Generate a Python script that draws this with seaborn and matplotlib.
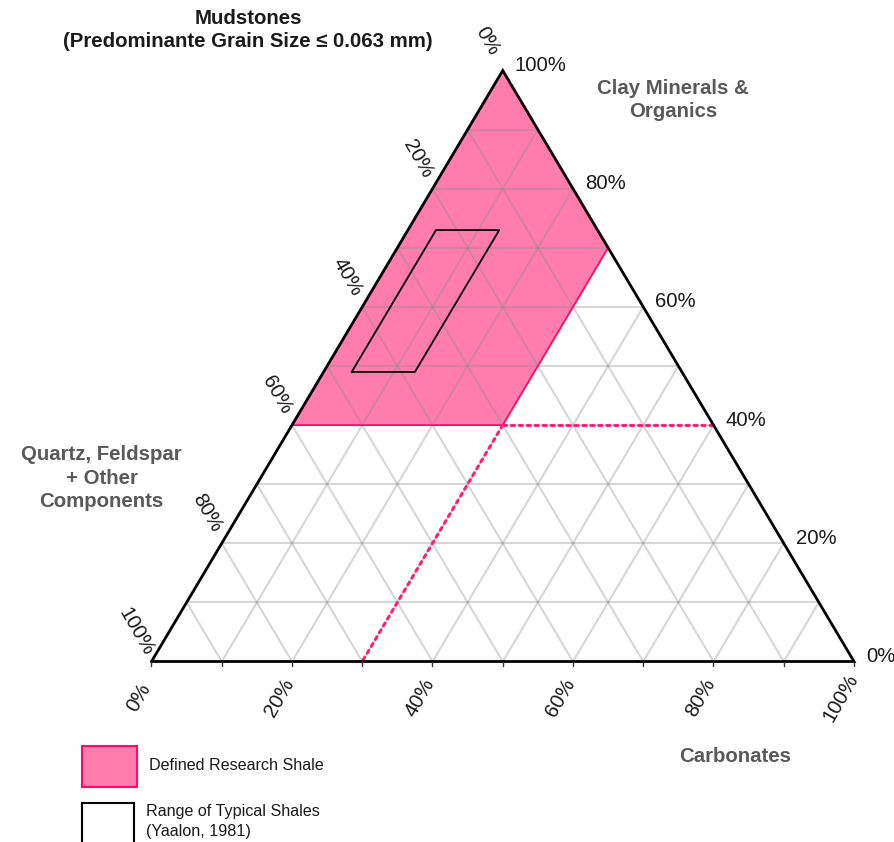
import numpy as np
import pandas as pd
import matplotlib
matplotlib.use("Agg")
import matplotlib.pyplot as plt
from matplotlib.patches import Rectangle
import seaborn as sns

# ---------------- data ----------------
tick_values = [0, 20, 40, 60, 80, 100]
tick_labels = ["0%", "20%", "40%", "60%", "80%", "100%"]
grid_levels = [10, 20, 30, 40, 50, 60, 70, 80, 90]
bottom_ticks = [0, 10, 20, 30, 40, 50, 60, 70, 80, 90, 100]

# Defined research shale: clay >= 40 %, carbonate <= 30 %
shale_clay = [40, 40, 70, 100]
shale_carb = [0, 30, 30, 0]

# Range of typical shales (Yaalon, 1981)
typical_clay = [49, 73, 73, 49]
typical_carb = [4, 4, 13, 13]

# dotted boundary extensions
clay_cut_clay = [40, 40]
clay_cut_carb = [30, 60]
carb_cut_clay = [40, 0]
carb_cut_carb = [30, 30]

title_text = "Mudstones\n(Predominante Grain Size \u2264 0.063 mm)"
apex_label = "Clay Minerals &\nOrganics"
left_label = "Quartz, Feldspar\n+ Other\nComponents"
right_label = "Carbonates"
legend_labels = ["Defined Research Shale", "Range of Typical Shales\n(Yaalon, 1981)"]

# ---------------- helpers ----------------
def tern(clay, carb):
    clay = np.asarray(clay, dtype=float) / 100.0
    carb = np.asarray(carb, dtype=float) / 100.0
    return carb + clay / 2.0, clay

W, H = 895, 842
sns.set_theme(style="white")
plt.rcParams["font.family"] = ["Liberation Sans", "DejaVu Sans"]

fig = plt.figure(figsize=(W / 100, H / 100), dpi=100)
ax = fig.add_axes([151.5 / W, (H - 661.5) / H, 702.5 / W, 591 / H])

PINK = "#ff7cac"
PINK_EDGE = "#ff0a6c"
DOT = "#ff1f78"
GREY_TXT = "#595959"
FS = 14.7

# pink region fill
sx, sy = tern(shale_clay, shale_carb)
ax.fill(sx, sy, facecolor=PINK, edgecolor="none", zorder=1)

# grid via seaborn
rows = []
seg = 0
for L in grid_levels:
    for (c0, k0, c1, k1) in [(L, 0, L, 100 - L),          # constant clay
                             (0, L, 100 - L, L),          # constant carbonate
                             (100 - L, 0, 0, 100 - L)]:   # constant quartz
        x0, y0 = tern(c0, k0)
        x1, y1 = tern(c1, k1)
        rows.append({"seg": seg, "x": float(x0), "y": float(y0)})
        rows.append({"seg": seg, "x": float(x1), "y": float(y1)})
        seg += 1
grid_df = pd.DataFrame(rows)
sns.lineplot(data=grid_df, x="x", y="y", units="seg", estimator=None, sort=False,
             color="#8c8c8c", alpha=0.35, lw=1.5, ax=ax, legend=False, zorder=2)
ax.set_xlim(0, 1)
ax.set_ylim(0, 1)
ax.set_xlabel("")
ax.set_ylabel("")
ax.axis("off")

# pink outline
ax.plot(np.append(sx, sx[0]), np.append(sy, sy[0]), color=PINK_EDGE, lw=1.3, zorder=3)

# dotted extensions
for cc, kk in [(clay_cut_clay, clay_cut_carb), (carb_cut_clay, carb_cut_carb)]:
    dx, dy = tern(cc, kk)
    ax.plot(dx, dy, color=DOT, lw=2.2, linestyle=(0, (1, 1.6)), zorder=3,
            clip_on=False, dash_capstyle="round")

# typical shales outline
tx, ty = tern(typical_clay, typical_carb)
ax.plot(np.append(tx, tx[0]), np.append(ty, ty[0]), color="black", lw=1.3, zorder=4)

# triangle frame
fx, fy = tern([0, 0, 100, 0], [0, 100, 0, 0])
ax.plot(fx, fy, color="black", lw=2.0, zorder=5, clip_on=False, solid_joinstyle="miter")

# small ticks along the bottom edge
for v in bottom_ticks:
    bx, by = tern(0, v)
    ax.plot([bx, bx], [0, -0.007], color="#333333", lw=1.0, clip_on=False, zorder=5)

PX = 0.72  # points per pixel
# tick labels
for v, lab in zip(tick_values, tick_labels):
    # quartz (left edge): point with clay = 100 - v, carbonate = 0
    x, y = tern(100 - v, 0)
    ax.annotate(lab, (x, y), xytext=(-15 * PX, 30 * PX), textcoords="offset points",
                ha="center", va="center", rotation=-60, fontsize=FS, color="#1a1a1a",
                annotation_clip=False)
    # carbonate (bottom edge)
    x, y = tern(0, v)
    ax.annotate(lab, (x, y), xytext=(-13 * PX, -36 * PX), textcoords="offset points",
                ha="center", va="center", rotation=60, fontsize=FS, color="#1a1a1a",
                annotation_clip=False)
    # clay (right edge)
    x, y = tern(v, 100 - v)
    ax.annotate(lab, (x, y), xytext=(12 * PX, 5 * PX), textcoords="offset points",
                ha="left", va="center", fontsize=FS, color="#1a1a1a",
                annotation_clip=False)

def ftxt(px, py, s, **kw):
    fig.text(px / W, 1 - py / H, s, **kw)

ftxt(248, 30, title_text, ha="center", va="center", fontsize=FS, fontweight="bold",
     color="#1a1a1a", multialignment="center", linespacing=1.3)
ftxt(673, 100, apex_label, ha="center", va="center", fontsize=FS, fontweight="bold",
     color=GREY_TXT, multialignment="center", linespacing=1.3)
ftxt(101.5, 478, left_label, ha="center", va="center", fontsize=FS, fontweight="bold",
     color=GREY_TXT, multialignment="center", linespacing=1.3)
ftxt(735, 757, right_label, ha="center", va="center", fontsize=FS, fontweight="bold",
     color=GREY_TXT)

# legend
fig.patches.append(Rectangle((82 / W, 1 - 787 / H), 55 / W, 41 / H, transform=fig.transFigure,
                             facecolor=PINK, edgecolor=PINK_EDGE, lw=1.5))
fig.patches.append(Rectangle((82 / W, 1 - 860 / H), 52 / W, 57 / H, transform=fig.transFigure,
                             facecolor="white", edgecolor="black", lw=1.5))
ftxt(149, 765, legend_labels[0], ha="left", va="center", fontsize=11.6, color="#1a1a1a")
ftxt(146, 821.5, legend_labels[1], ha="left", va="center", fontsize=11.6, color="#1a1a1a",
     linespacing=1.4)

fig.savefig("out.png", dpi=100)
